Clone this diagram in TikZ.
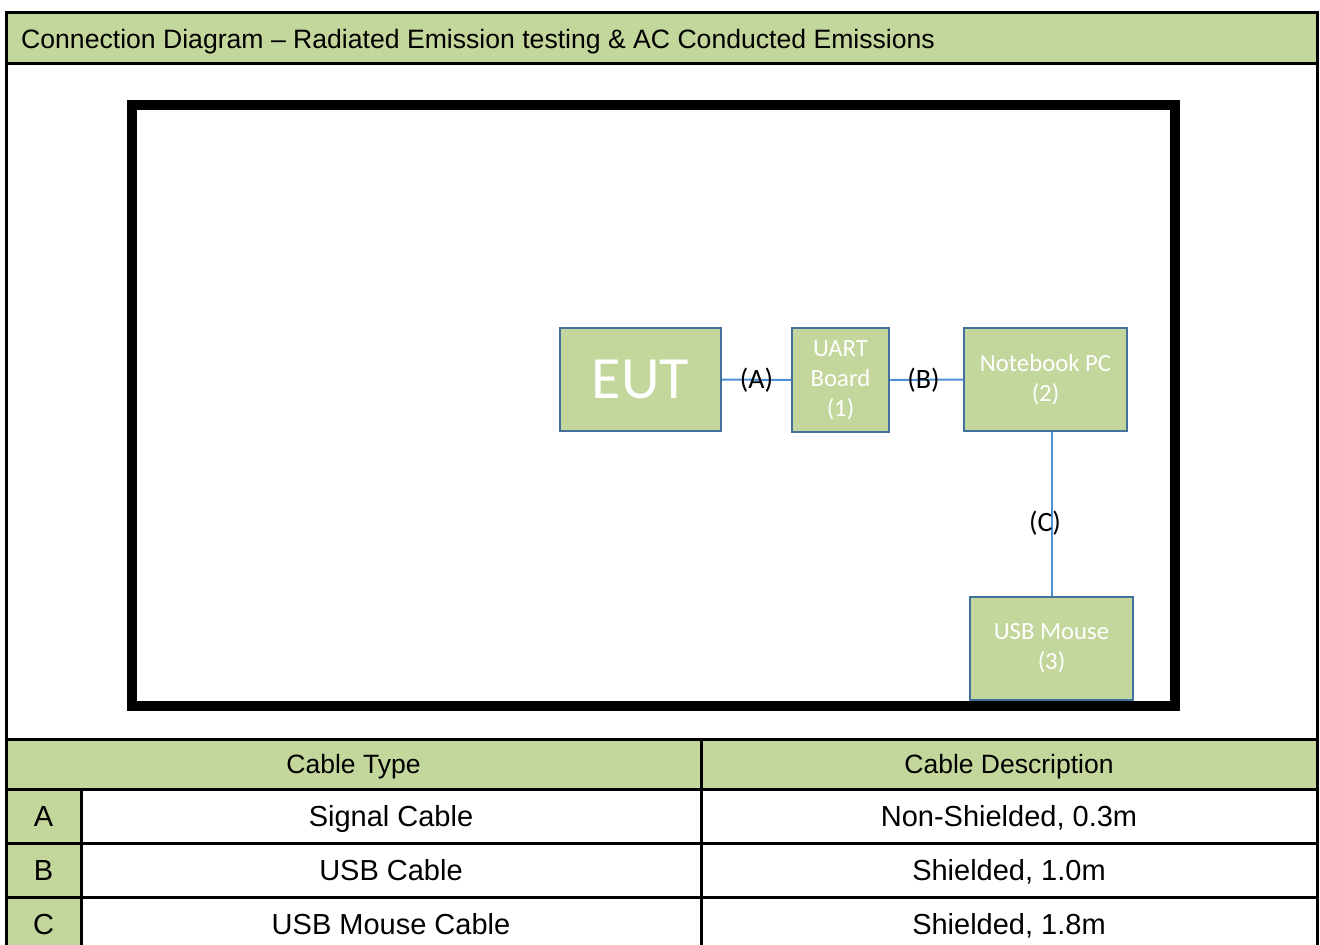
\documentclass[tikz,border=0pt]{standalone}
\usepackage{fontspec}
\setmainfont{Liberation Sans}
\newfontfamily\calfont{Carlito}
\definecolor{olive}{HTML}{C3D69B}
\definecolor{boxline}{HTML}{41719C}
\definecolor{wire}{HTML}{4F8FD6}
\begin{document}
\begin{tikzpicture}[x=1pt,y=-1pt,
  unit/.style={draw=boxline,line width=1.8pt,fill=olive,text=white,inner sep=0pt,align=center,
    font=\calfont\fontsize{24.7}{30}\selectfont},
  cable/.style={draw=wire,line width=2pt},
  clabel/.style={text=black,inner sep=0pt,font=\calfont\fontsize{28}{30}\selectfont},
  tabhead/.style={anchor=base,inner sep=0pt,font=\fontsize{26.5}{30}\selectfont},
  tabtxt/.style={anchor=base,inner sep=0pt,font=\fontsize{29}{32}\selectfont},
  grid/.style={line width=3pt,black}]
\useasboundingbox (0,0) rectangle (1320,945);
\fill[white] (0,0) rectangle (1320,945);
% title band
\fill[olive] (6,12) rectangle (1317,63);
\node[anchor=base west,inner sep=0pt,font=\fontsize{26.6}{30}\selectfont] (title) at (21,48) {Connection Diagram – Radiated Emission testing \& AC Conducted Emissions};
% table fills
\fill[olive] (6,739) rectangle (1317,789);
\fill[olive] (6,789) rectangle (81,955);
% frame and grid
\draw[grid] (6,955) -- (6,12) -- (1317,12) -- (1317,955);
\draw[grid] (6,63) -- (1317,63);
\draw[grid] (6,739) -- (1317,739);
\draw[grid] (6,789) -- (1317,789);
\draw[grid] (6,843) -- (1317,843);
\draw[grid] (6,897) -- (1317,897);
\draw[grid] (81,789) -- (81,955);
\draw[grid] (701,739) -- (701,955);
% test area
\draw[line width=10pt,black] (132,105) rectangle (1175,706);
% units
\node[unit,minimum width=161pt,minimum height=103pt,font=\calfont\fontsize{60}{60}\selectfont] (eut) at (640.5,379.5) {EUT};
\node[unit,minimum width=97pt,minimum height=104pt] (uart) at (840.5,380) {UART\\Board\\(1)};
\node[unit,minimum width=163pt,minimum height=103pt] (nb) at (1045.5,379.5) {Notebook PC\\(2)};
\node[unit,minimum width=163pt,minimum height=103pt] (mouse) at (1051.5,648.5) {USB Mouse\\(3)};
% cables
\draw[cable] (eut.east) -- node[clabel] (la) {(A)} (uart.west);
\draw[cable] (uart.east) -- node[clabel,xshift=-3pt] (lb) {(B)} (nb.west);
\draw[cable] (mouse.north) -- (mouse.north |- nb.south);
\node[clabel] (lc) at (1045,523) {(C)};
% table text
\node[tabhead] (h1) at (353.5,773.5) {Cable Type};
\node[tabhead] (h2) at (1009,773.5) {Cable Description};
\node[tabtxt] (ra) at (43.5,826.5) {A};
\node[tabtxt] (rb) at (43.5,880.5) {B};
\node[tabtxt] (rc) at (43.5,934.5) {C};
\node[tabtxt] (ta) at (391,826.5) {Signal Cable};
\node[tabtxt] (tb) at (391,880.5) {USB Cable};
\node[tabtxt] (tc) at (391,934.5) {USB Mouse Cable};
\node[tabtxt] (da) at (1009,826.5) {Non-Shielded, 0.3m};
\node[tabtxt] (db) at (1009,880.5) {Shielded, 1.0m};
\node[tabtxt] (dc) at (1009,934.5) {Shielded, 1.8m};
\end{tikzpicture}
\end{document}
